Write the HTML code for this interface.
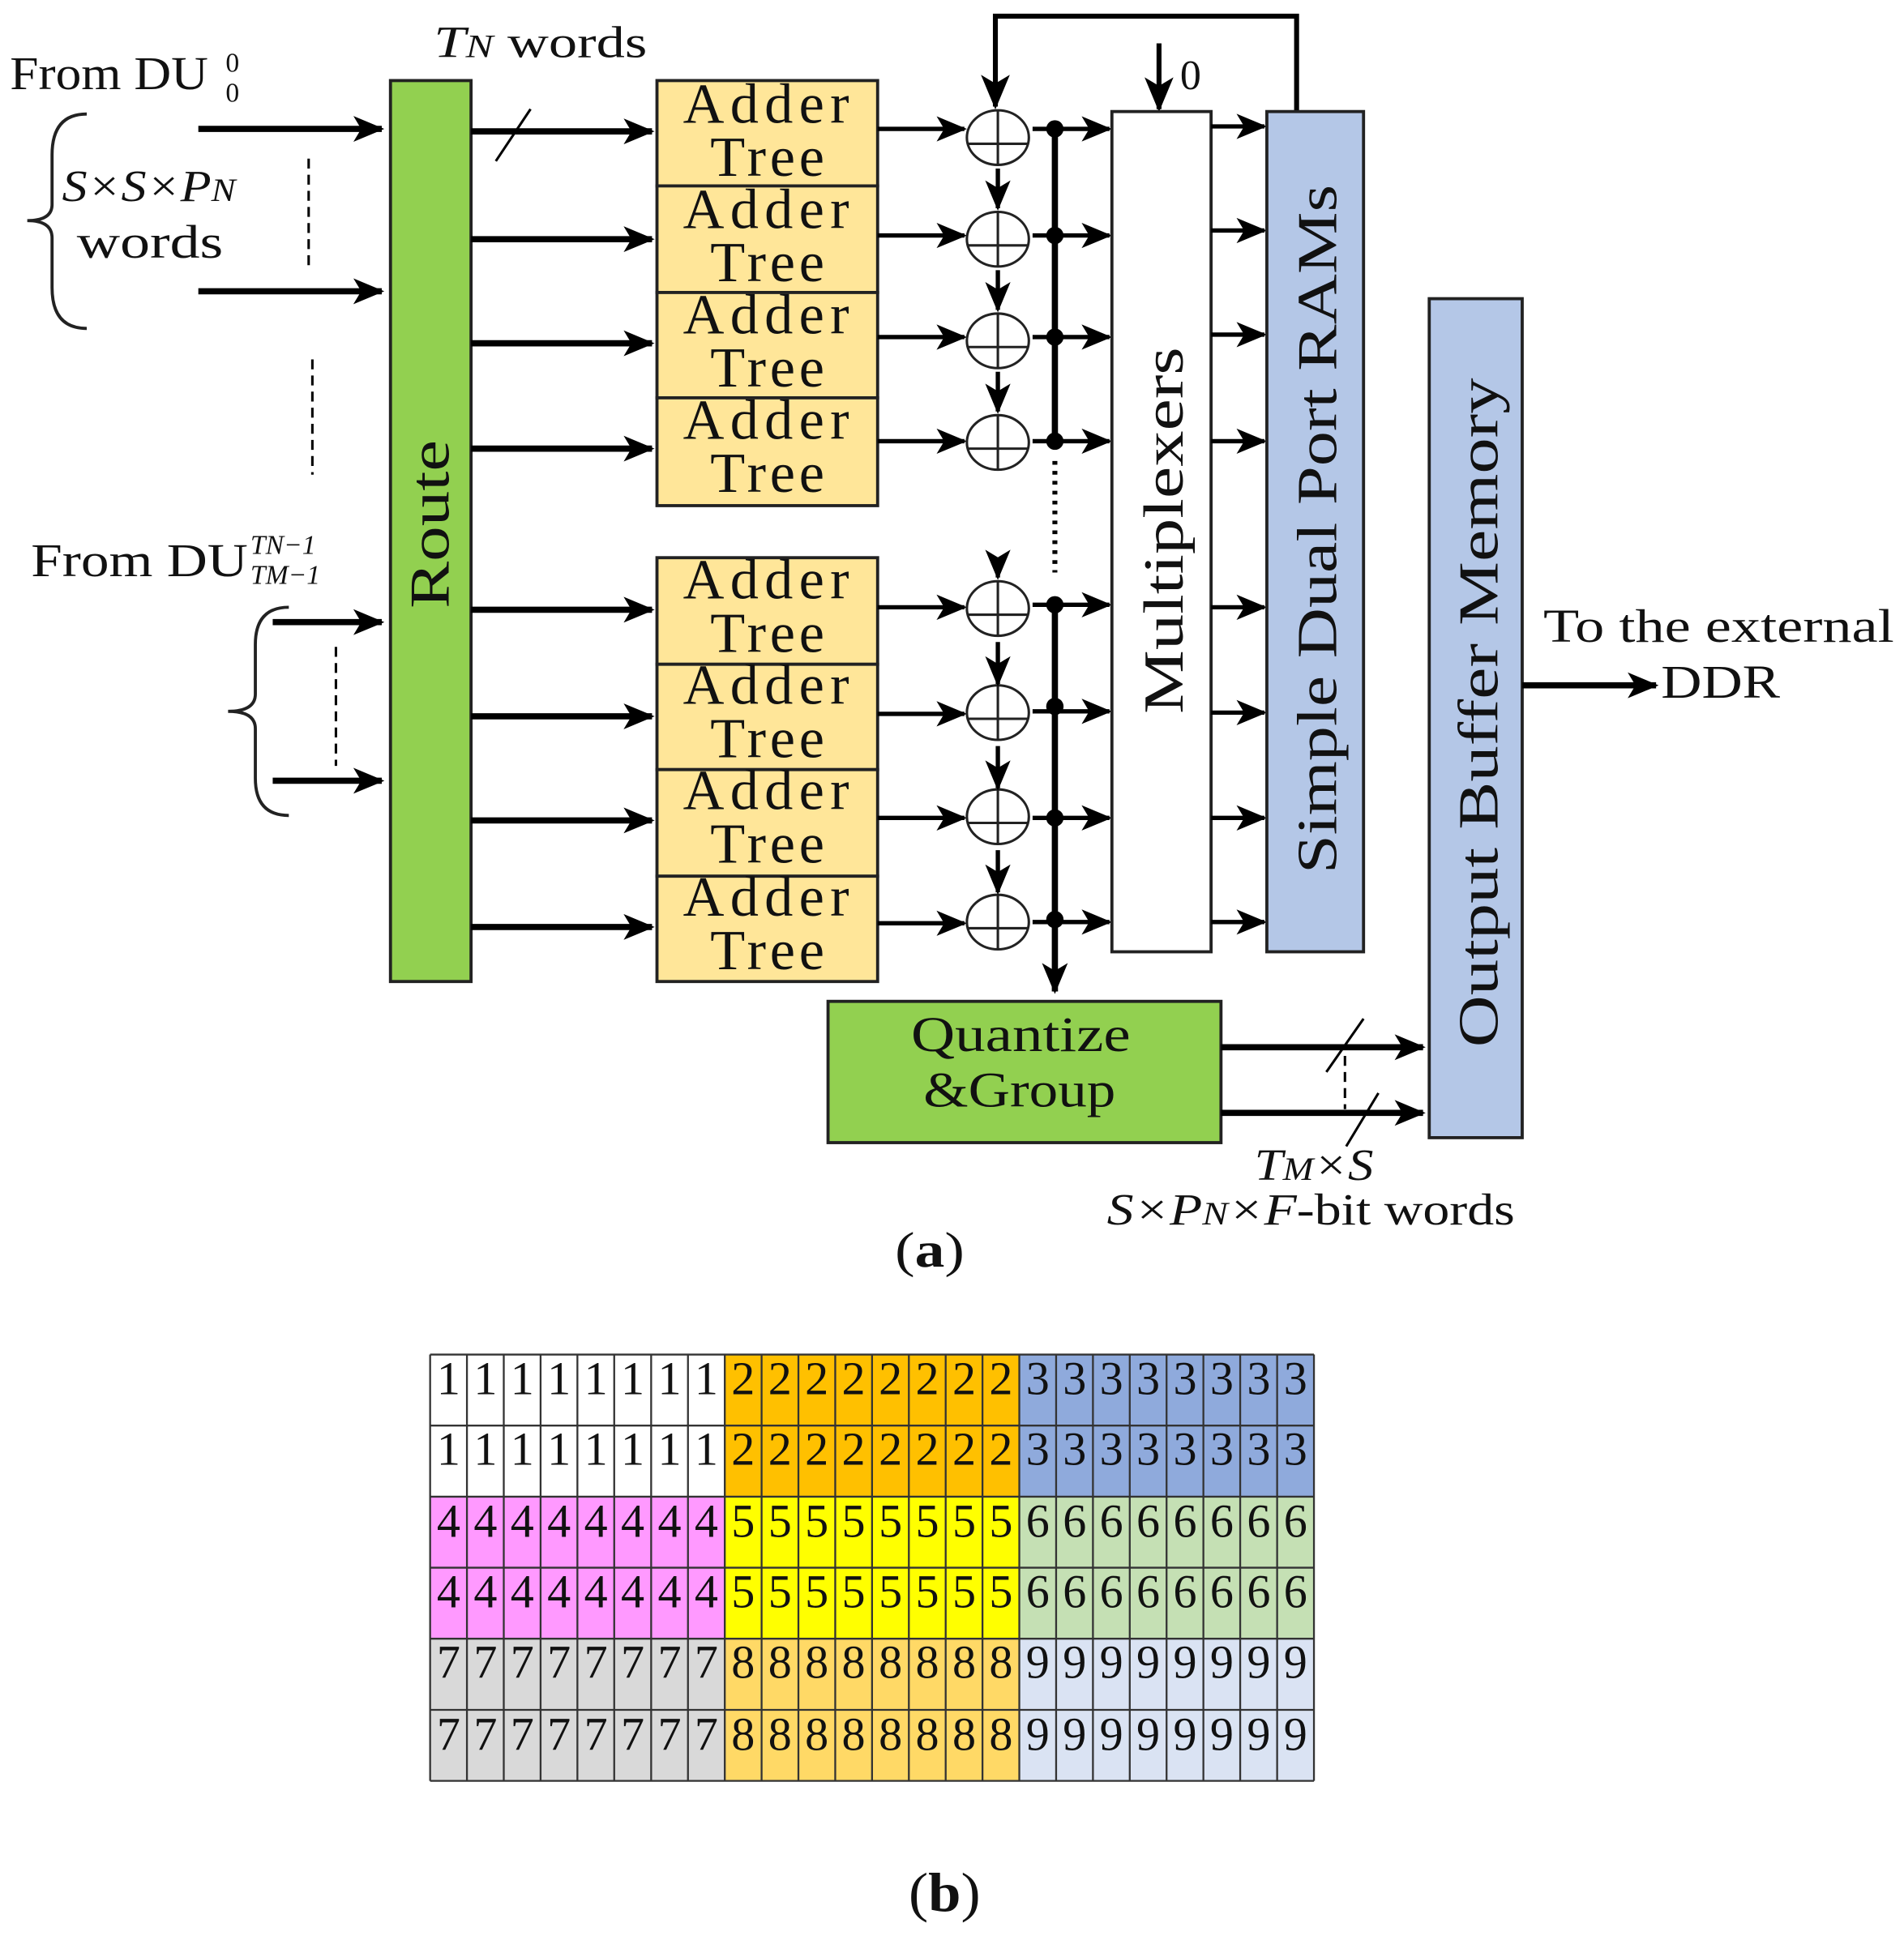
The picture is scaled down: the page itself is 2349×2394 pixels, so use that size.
<!DOCTYPE html>
<html><head><meta charset="utf-8"><style>
html,body{margin:0;padding:0;background:#fff;}
svg{display:block;}
text{font-family:"Liberation Serif",serif;fill:#111;}
</style></head><body>
<svg width="2349" height="2394" viewBox="0 0 1536 1565.4" xmlns="http://www.w3.org/2000/svg">
<defs>
<marker id="a" viewBox="0 0 12 10" refX="11" refY="5" markerWidth="5" markerHeight="5" orient="auto" markerUnits="strokeWidth">
<path d="M0,0 L12,5 L0,10 L3,5 z" fill="#000"/></marker>
<marker id="b" viewBox="0 0 12 10" refX="11" refY="5" markerWidth="7" markerHeight="7" orient="auto" markerUnits="strokeWidth">
<path d="M0,0 L12,5 L0,10 L3,5 z" fill="#000"/></marker>
</defs>

<text x="8" y="72" font-size="38" textLength="160" lengthAdjust="spacingAndGlyphs">From  DU</text>
<text x="182" y="58" font-size="22">0</text><text x="182" y="82" font-size="22">0</text>
<text x="50" y="162" font-size="36" font-style="italic" textLength="140" lengthAdjust="spacingAndGlyphs">S×S×P<tspan font-size="26">N</tspan></text>
<text x="62" y="208" font-size="38" textLength="118" lengthAdjust="spacingAndGlyphs">words</text>
<path d="M70,92 Q42,92 42,125 L42,165 Q42,178 22,178 Q42,178 42,192 L42,232 Q42,265 70,265" fill="none" stroke="#222" stroke-width="2.5"/>
<text x="25" y="465" font-size="38" textLength="175" lengthAdjust="spacingAndGlyphs">From  DU</text>
<text x="202" y="447" font-size="22" font-style="italic">TN−1</text><text x="202" y="471" font-size="22" font-style="italic">TM−1</text>
<path d="M233,490 Q206,490 206,520 L206,560 Q206,574 184,574 Q206,574 206,588 L206,628 Q206,658 233,658" fill="none" stroke="#222" stroke-width="2.5"/>

<g stroke="#000" stroke-width="5" marker-end="url(#a)">
<line x1="160" y1="104" x2="308" y2="104"/>
<line x1="160" y1="235" x2="308" y2="235"/>
<line x1="220" y1="502" x2="308" y2="502"/>
<line x1="220" y1="630" x2="308" y2="630"/>
</g>
<g stroke="#000" stroke-width="2" stroke-dasharray="8,5">
<line x1="249" y1="128" x2="249" y2="215"/>
<line x1="252" y1="290" x2="252" y2="383"/>
<line x1="271" y1="522" x2="271" y2="618"/>
<line x1="1085" y1="852" x2="1085" y2="895"/>
</g>

<rect x="315" y="65" width="65" height="727" fill="#92d050" stroke="#222" stroke-width="2.5"/>
<text transform="translate(362,423) rotate(-90)" text-anchor="middle" font-size="46" textLength="136" lengthAdjust="spacingAndGlyphs">Route</text>
<text x="350" y="46" font-size="36" textLength="172" lengthAdjust="spacingAndGlyphs"><tspan font-style="italic">T<tspan font-size="26">N</tspan></tspan> words</text>

<g stroke="#000" stroke-width="5" marker-end="url(#a)">
<line x1="380" y1="106" x2="526" y2="106"/>
<line x1="380" y1="193" x2="526" y2="193"/>
<line x1="380" y1="277" x2="526" y2="277"/>
<line x1="380" y1="362" x2="526" y2="362"/>
<line x1="380" y1="492" x2="526" y2="492"/>
<line x1="380" y1="578" x2="526" y2="578"/>
<line x1="380" y1="662" x2="526" y2="662"/>
<line x1="380" y1="748" x2="526" y2="748"/>
</g>
<line x1="400" y1="130" x2="428" y2="88" stroke="#000" stroke-width="2"/>

<g fill="#ffe699" stroke="#222" stroke-width="2.5">
<rect x="530" y="65" width="178" height="85"/><rect x="530" y="150" width="178" height="86"/>
<rect x="530" y="236" width="178" height="85"/><rect x="530" y="321" width="178" height="87"/>
<rect x="530" y="450" width="178" height="86"/><rect x="530" y="536" width="178" height="85"/>
<rect x="530" y="621" width="178" height="86"/><rect x="530" y="707" width="178" height="85"/>
</g>
<g font-size="46" text-anchor="middle" lengthAdjust="spacingAndGlyphs">
<text x="618" y="99" textLength="134">Adder</text><text x="619" y="142" textLength="92">Tree</text>
<text x="618" y="184" textLength="134">Adder</text><text x="619" y="227" textLength="92">Tree</text>
<text x="618" y="269" textLength="134">Adder</text><text x="619" y="312" textLength="92">Tree</text>
<text x="618" y="354" textLength="134">Adder</text><text x="619" y="397" textLength="92">Tree</text>
<text x="618" y="483" textLength="134">Adder</text><text x="619" y="526" textLength="92">Tree</text>
<text x="618" y="568" textLength="134">Adder</text><text x="619" y="611" textLength="92">Tree</text>
<text x="618" y="653" textLength="134">Adder</text><text x="619" y="696" textLength="92">Tree</text>
<text x="618" y="739" textLength="134">Adder</text><text x="619" y="782" textLength="92">Tree</text>
</g>

<g stroke="#000" stroke-width="3.5" marker-end="url(#b)">
<line x1="708" y1="104" x2="778" y2="104"/>
<line x1="708" y1="190" x2="778" y2="190"/>
<line x1="708" y1="272" x2="778" y2="272"/>
<line x1="708" y1="356" x2="778" y2="356"/>
<line x1="708" y1="490" x2="778" y2="490"/>
<line x1="708" y1="576" x2="778" y2="576"/>
<line x1="708" y1="660" x2="778" y2="660"/>
<line x1="708" y1="745" x2="778" y2="745"/>
</g>
<g fill="#fff" stroke="#222" stroke-width="2">
<g id="c1"><ellipse cx="805" cy="111" rx="25" ry="22"/><line x1="780" y1="116" x2="830" y2="116"/><line x1="805" y1="89" x2="805" y2="133"/></g>
<use href="#c1" y="82"/><use href="#c1" y="164"/><use href="#c1" y="246"/>
<use href="#c1" y="380"/><use href="#c1" y="464"/><use href="#c1" y="548"/><use href="#c1" y="633"/>
</g>
<g stroke="#000" stroke-width="3.5" marker-end="url(#b)">
<line x1="805" y1="136" x2="805" y2="168"/>
<line x1="805" y1="218" x2="805" y2="250"/>
<line x1="805" y1="300" x2="805" y2="332"/>
<line x1="805" y1="452" x2="805" y2="466"/>
<line x1="805" y1="518" x2="805" y2="552"/>
<line x1="805" y1="602" x2="805" y2="636"/>
<line x1="805" y1="686" x2="805" y2="720"/>
</g>
<path d="M1046,90 L1046,13 L803,13 L803,86" fill="none" stroke="#000" stroke-width="4" marker-end="url(#b)"/>
<line x1="935" y1="35" x2="935" y2="88" stroke="#000" stroke-width="4" marker-end="url(#b)"/>
<text x="952" y="72" font-size="34">0</text>

<g stroke="#000" stroke-width="5">
<line x1="851" y1="104" x2="851" y2="358"/>
<line x1="851" y1="488" x2="851" y2="800" marker-end="url(#a)"/>
</g>
<line x1="851" y1="372" x2="851" y2="462" stroke="#000" stroke-width="4" stroke-dasharray="3,5"/>
<g fill="#000">
<circle cx="851" cy="104" r="7"/><circle cx="851" cy="190" r="7"/><circle cx="851" cy="272" r="7"/><circle cx="851" cy="356" r="7"/>
<circle cx="851" cy="488" r="7"/><circle cx="851" cy="570" r="7"/><circle cx="851" cy="660" r="7"/><circle cx="851" cy="742" r="7"/>
</g>
<g stroke="#000" stroke-width="3.5" marker-end="url(#b)">
<line x1="833" y1="104" x2="895" y2="104"/>
<line x1="833" y1="190" x2="895" y2="190"/>
<line x1="833" y1="272" x2="895" y2="272"/>
<line x1="833" y1="356" x2="895" y2="356"/>
<line x1="833" y1="488" x2="895" y2="488"/>
<line x1="833" y1="574" x2="895" y2="574"/>
<line x1="833" y1="660" x2="895" y2="660"/>
<line x1="833" y1="744" x2="895" y2="744"/>
</g>

<rect x="897" y="90" width="80" height="678" fill="#fff" stroke="#222" stroke-width="2.5"/>
<text transform="translate(954,428) rotate(-90)" text-anchor="middle" font-size="46" textLength="296" lengthAdjust="spacingAndGlyphs">Multiplexers</text>
<g stroke="#000" stroke-width="3.5" marker-end="url(#b)">
<line x1="977" y1="102" x2="1020" y2="102"/>
<line x1="977" y1="186" x2="1020" y2="186"/>
<line x1="977" y1="270" x2="1020" y2="270"/>
<line x1="977" y1="356" x2="1020" y2="356"/>
<line x1="977" y1="490" x2="1020" y2="490"/>
<line x1="977" y1="575" x2="1020" y2="575"/>
<line x1="977" y1="660" x2="1020" y2="660"/>
<line x1="977" y1="744" x2="1020" y2="744"/>
</g>
<rect x="1022" y="90" width="78" height="678" fill="#b4c7e7" stroke="#222" stroke-width="2.5"/>
<text transform="translate(1078,427) rotate(-90)" text-anchor="middle" font-size="46" textLength="556" lengthAdjust="spacingAndGlyphs">Simple Dual Port RAMs</text>
<rect x="1153" y="241" width="75" height="677" fill="#b4c7e7" stroke="#222" stroke-width="2.5"/>
<text transform="translate(1208,575) rotate(-90)" text-anchor="middle" font-size="46" textLength="540" lengthAdjust="spacingAndGlyphs">Output Buffer Memory</text>
<line x1="1228" y1="553" x2="1336" y2="553" stroke="#000" stroke-width="5" marker-end="url(#a)"/>
<text x="1245" y="518" font-size="38" textLength="283" lengthAdjust="spacingAndGlyphs">To the external</text>
<text x="1340" y="563" font-size="38" textLength="96" lengthAdjust="spacingAndGlyphs">DDR</text>

<rect x="668" y="808" width="317" height="114" fill="#92d050" stroke="#222" stroke-width="2.5"/>
<text x="735" y="848" font-size="40" textLength="177" lengthAdjust="spacingAndGlyphs">Quantize</text>
<text x="745" y="893" font-size="40" textLength="155" lengthAdjust="spacingAndGlyphs">&amp;Group</text>
<g stroke="#000" stroke-width="5" marker-end="url(#a)">
<line x1="985" y1="845" x2="1148" y2="845"/>
<line x1="985" y1="898" x2="1148" y2="898"/>
</g>
<line x1="1070" y1="865" x2="1100" y2="822" stroke="#000" stroke-width="2"/>
<line x1="1086" y1="925" x2="1112" y2="882" stroke="#000" stroke-width="2"/>
<text x="1012" y="952" font-size="36" font-style="italic" textLength="96" lengthAdjust="spacingAndGlyphs">T<tspan font-size="26">M</tspan>×S</text>
<text x="893" y="988" font-size="36" textLength="329" lengthAdjust="spacingAndGlyphs"><tspan font-style="italic">S×P<tspan font-size="26">N</tspan>×F</tspan>-bit words</text>
<text x="722" y="1022" font-size="40" textLength="56" lengthAdjust="spacingAndGlyphs">(<tspan font-weight="bold">a</tspan>)</text>

<g>
<rect x="347" y="1093" width="237.7" height="114.7" fill="#ffffff"/>
<rect x="584.7" y="1093" width="237.7" height="114.7" fill="#ffc000"/>
<rect x="822.3" y="1093" width="237.7" height="114.7" fill="#8faadc"/>
<rect x="347" y="1207.7" width="237.7" height="114.7" fill="#ff99ff"/>
<rect x="584.7" y="1207.7" width="237.7" height="114.7" fill="#ffff00"/>
<rect x="822.3" y="1207.7" width="237.7" height="114.7" fill="#c5e0b4"/>
<rect x="347" y="1322.3" width="237.7" height="114.7" fill="#d9d9d9"/>
<rect x="584.7" y="1322.3" width="237.7" height="114.7" fill="#ffd966"/>
<rect x="822.3" y="1322.3" width="237.7" height="114.7" fill="#dae3f3"/>
</g>
<g stroke="#333" stroke-width="1.5">
<line x1="347" y1="1093" x2="1060" y2="1093"/>
<line x1="347" y1="1150.3" x2="1060" y2="1150.3"/>
<line x1="347" y1="1207.7" x2="1060" y2="1207.7"/>
<line x1="347" y1="1265" x2="1060" y2="1265"/>
<line x1="347" y1="1322.3" x2="1060" y2="1322.3"/>
<line x1="347" y1="1379.7" x2="1060" y2="1379.7"/>
<line x1="347" y1="1437" x2="1060" y2="1437"/>
<line x1="347" y1="1093" x2="347" y2="1437"/>
<line x1="376.7" y1="1093" x2="376.7" y2="1437"/>
<line x1="406.4" y1="1093" x2="406.4" y2="1437"/>
<line x1="436.1" y1="1093" x2="436.1" y2="1437"/>
<line x1="465.8" y1="1093" x2="465.8" y2="1437"/>
<line x1="495.5" y1="1093" x2="495.5" y2="1437"/>
<line x1="525.3" y1="1093" x2="525.3" y2="1437"/>
<line x1="555" y1="1093" x2="555" y2="1437"/>
<line x1="584.7" y1="1093" x2="584.7" y2="1437"/>
<line x1="614.4" y1="1093" x2="614.4" y2="1437"/>
<line x1="644.1" y1="1093" x2="644.1" y2="1437"/>
<line x1="673.8" y1="1093" x2="673.8" y2="1437"/>
<line x1="703.5" y1="1093" x2="703.5" y2="1437"/>
<line x1="733.2" y1="1093" x2="733.2" y2="1437"/>
<line x1="762.9" y1="1093" x2="762.9" y2="1437"/>
<line x1="792.6" y1="1093" x2="792.6" y2="1437"/>
<line x1="822.3" y1="1093" x2="822.3" y2="1437"/>
<line x1="852" y1="1093" x2="852" y2="1437"/>
<line x1="881.7" y1="1093" x2="881.7" y2="1437"/>
<line x1="911.4" y1="1093" x2="911.4" y2="1437"/>
<line x1="941.1" y1="1093" x2="941.1" y2="1437"/>
<line x1="970.8" y1="1093" x2="970.8" y2="1437"/>
<line x1="1000.5" y1="1093" x2="1000.5" y2="1437"/>
<line x1="1030.3" y1="1093" x2="1030.3" y2="1437"/>
<line x1="1060" y1="1093" x2="1060" y2="1437"/>
</g>
<g font-size="38" text-anchor="middle">
<text x="361.9 391.6 421.3 451.0 480.7 510.4 540.1 569.8 599.5 629.2 658.9 688.6 718.4 748.1 777.8 807.5 837.2 866.9 896.6 926.3 956.0 985.7 1015.4 1045.1" y="1125">111111112222222233333333</text>
<text x="361.9 391.6 421.3 451.0 480.7 510.4 540.1 569.8 599.5 629.2 658.9 688.6 718.4 748.1 777.8 807.5 837.2 866.9 896.6 926.3 956.0 985.7 1015.4 1045.1" y="1182">111111112222222233333333</text>
<text x="361.9 391.6 421.3 451.0 480.7 510.4 540.1 569.8 599.5 629.2 658.9 688.6 718.4 748.1 777.8 807.5 837.2 866.9 896.6 926.3 956.0 985.7 1015.4 1045.1" y="1240">444444445555555566666666</text>
<text x="361.9 391.6 421.3 451.0 480.7 510.4 540.1 569.8 599.5 629.2 658.9 688.6 718.4 748.1 777.8 807.5 837.2 866.9 896.6 926.3 956.0 985.7 1015.4 1045.1" y="1297">444444445555555566666666</text>
<text x="361.9 391.6 421.3 451.0 480.7 510.4 540.1 569.8 599.5 629.2 658.9 688.6 718.4 748.1 777.8 807.5 837.2 866.9 896.6 926.3 956.0 985.7 1015.4 1045.1" y="1354">777777778888888899999999</text>
<text x="361.9 391.6 421.3 451.0 480.7 510.4 540.1 569.8 599.5 629.2 658.9 688.6 718.4 748.1 777.8 807.5 837.2 866.9 896.6 926.3 956.0 985.7 1015.4 1045.1" y="1412">777777778888888899999999</text>
</g>
<text x="733" y="1542" font-size="44" textLength="58" lengthAdjust="spacingAndGlyphs">(<tspan font-weight="bold">b</tspan>)</text>
</svg>
</body></html>
